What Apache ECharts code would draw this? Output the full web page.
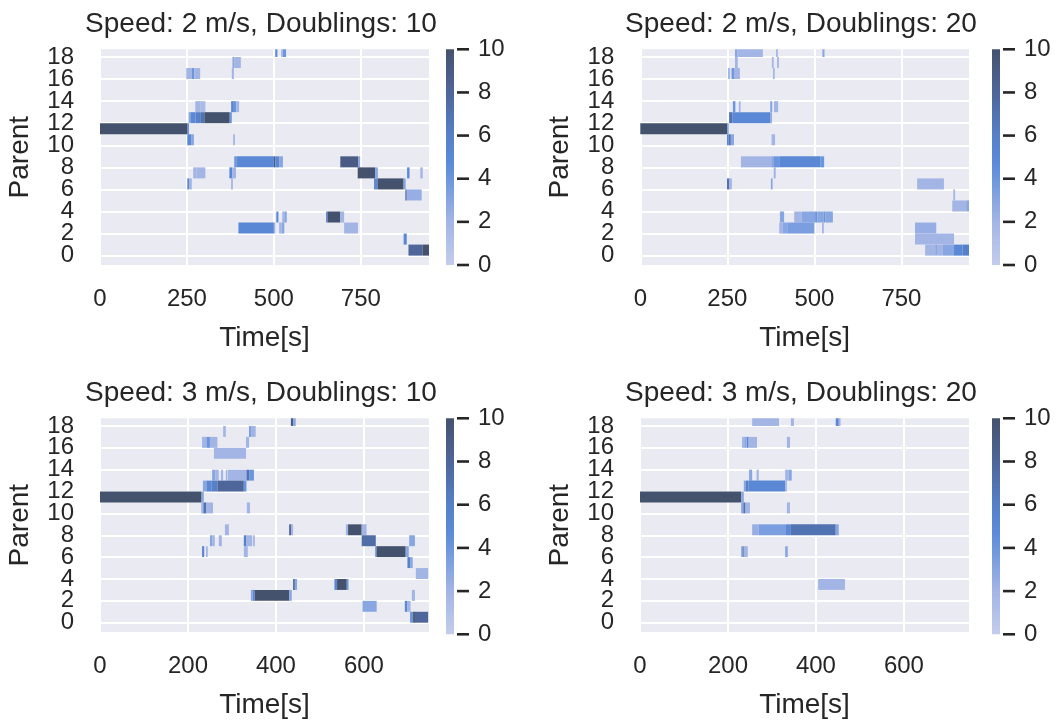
<!DOCTYPE html>
<html><head><meta charset="utf-8">
<script src="https://cdn.jsdelivr.net/npm/echarts@6/dist/echarts.min.js"></script>
<style>html,body{margin:0;padding:0;background:#fff}#c{width:1056px;height:720px}</style>
</head><body><div id="c"></div>
<script>
// ---- data ----
const parentTicks = [0, 2, 4, 6, 8, 10, 12, 14, 16, 18];
const timeTicksTop = [0, 250, 500, 750];
const timeTicksBottom = [0, 200, 400, 600];
const colorbarTicks = [0, 2, 4, 6, 8, 10];
const panelTitles = ['Speed: 2 m/s, Doublings: 10', 'Speed: 2 m/s, Doublings: 20',
                     'Speed: 3 m/s, Doublings: 10', 'Speed: 3 m/s, Doublings: 20'];
const timeMax = [946, 944, 748, 748];
const parentMin = -0.85, parentMax = 18.7;
const countMin = 0, countMax = 10;
const cmapStops = [[0, '#c3cdec'], [2, '#a3b5e5'], [4, '#6c96dc'], [4.7, '#5b8bd9'], [6, '#5680c8'], [8, '#4e6699'], [10, '#45526e']];

// segments: [start time (s), end time (s), parent bin, count]
const segSpeed2Doub10 = [
  [504,510,18,5],[521,526,18,2],[526,535,18,4],
  [381,386,17,3],[386,405,17,2],
  [248,264,16,2],[264,271,16,4],[271,288,16,2],[379,385,16,2],
  [274,288,13,2],[288,303,13,1.5],[377,385,13,5],[385,392,13,4],[392,400,13,2],
  [255,260,12,3],[260,275,12,5],[275,290,12,6],[290,300,12,7],[300,373,12,10],[373,379,12,4],
  [0,252,11,10],[252,256,11,4],
  [251,262,10,5],[262,270,10,3],[383,388,10,2],
  [386,392,8,4],[392,500,8,5],[500,504,8,9],[504,515,8,5],[515,526,8,3],[691,743,8,9],[743,748,8,3],
  [268,278,7,2],[278,303,7,2],[372,380,7,5],[380,391,7,2],[741,791,7,10],[791,799,7,3],[883,890,7,5],[921,928,7,2],
  [251,256,6,5],[256,264,6,2],[377,382,6,2],[788,798,6,5],[798,873,6,10],[873,879,6,3],
  [878,882,5,8],[882,925,5,2.5],
  [507,513,3,5],[524,530,3,2],[530,537,3,3],[650,654,3,5],[654,691,3,10],[691,702,3,2],
  [398,500,2,5],[500,504,2,2],[515,522,2,2],[522,530,2,3],[702,742,2,2],
  [873,882,1,5],
  [887,927,0,8],[927,946,0,10]
];
const segSpeed2Doub20 = [
  [272,279,18,3],[279,352,18,2],[390,395,18,2],[523,529,18,3],
  [272,280,17,2],[378,383,17,2],[393,398,17,2],
  [252,258,16,2],[262,269,16,4],[269,286,16,2],[381,386,16,2],
  [266,273,13,4],[283,288,13,2],[373,379,13,3],[384,396,13,2],
  [255,264,12,7],[264,373,12,5],[373,378,12,3],
  [0,249,11,10],[249,254,11,3],
  [249,254,10,5],[254,260,10,7],[260,269,10,3],[377,387,10,2],
  [289,376,8,2],[376,382,8,3],[382,401,8,4],[401,518,8,5],[518,528,8,4],
  [383,389,7,2],
  [249,256,6,7],[256,263,6,2],[375,380,6,3],[795,872,6,2],
  [899,904,5,2],
  [896,936,4,2],[936,944,4,3],
  [401,413,3,3],[442,463,3,2],[463,502,3,3],[502,509,3,4],[509,526,3,3],[526,532,3,4],[532,553,3,3],
  [399,409,2,2],[409,422,2,3],[422,500,2,3.5],[522,527,2,2],[789,850,2,2.5],
  [789,901,1,2],
  [818,847,0,2],[847,852,0,3],[852,869,0,2],[869,901,0,3],[901,925,0,5],[925,944,0,6]
];
const segSpeed3Doub10 = [
  [434,439,18,9],[439,445,18,3],
  [280,286,17,2],[339,343,17,4],[343,354,17,2],
  [232,242,16,2],[242,250,16,4],[250,267,16,2],[332,339,16,2],
  [259,332,15,2],
  [255,262,13,3],[262,270,13,2],[275,280,13,2],[286,289,13,2],[290,333,13,2],[333,339,13,7],[339,350,13,4],
  [234,242,12,3],[242,254,12,5],[254,267,12,6],[267,327,12,8],[327,333,12,4],
  [0,231,11,10],[231,236,11,3],
  [230,235,10,2],[235,242,10,7],[242,257,10,2],[334,341,10,2],
  [284,293,8,2],[430,435,8,8],[435,439,8,2],[559,564,8,2],[564,595,8,10],[595,606,8,2],
  [250,256,7,3],[256,261,7,2],[270,277,7,2],[327,333,7,6],[333,346,7,2],[348,352,7,2],[595,627,7,7.5],[703,716,7,3],
  [232,237,6,5],[241,245,6,2],[327,336,6,2],[626,629,6,6],[629,695,6,10],[695,702,6,3],
  [699,706,5,6],[706,711,5,3],
  [718,746,4,2],
  [439,443,3,8],[443,448,3,3],[533,539,3,5],[539,561,3,10],[561,565,3,4],
  [343,347,2,3],[347,352,2,5],[352,430,2,10],[430,436,2,3],[709,716,2,2],
  [597,629,1,3],[693,699,1,5],[699,706,1,2],
  [705,712,0,4],[712,716,0,10],[716,746,0,8]
];
const segSpeed3Doub20 = [
  [255,316,18,2],[343,350,18,2],[445,452,18,5],[452,456,18,2],
  [232,237,16,2],[237,241,16,3],[242,247,16,5],[247,266,16,2],[334,341,16,2],
  [248,255,13,3],[265,270,13,2],[330,338,13,2],[338,345,13,3],
  [236,240,12,3],[240,247,12,6],[247,330,12,5],[330,334,12,2],
  [0,230,11,10],[230,236,11,3],
  [230,235,10,3],[235,240,10,7],[240,250,10,2],[334,341,10,2],
  [255,270,8,2.5],[270,332,8,3.5],[332,343,8,5],[343,445,8,7],[445,452,8,3],
  [230,233,6,3],[233,236,6,7],[236,245,6,2],[330,336,6,3],
  [405,466,3,2]
];
const panelSegments = [segSpeed2Doub10, segSpeed2Doub20, segSpeed3Doub10, segSpeed3Doub20];

// ---- layout ----
const layout = [
  {left: 100, top: 49.3, width: 329, height: 215.7, cbLeft: 446, titleX: 261, titleTop: 10},
  {left: 640.3, top: 49.3, width: 328.7, height: 215.7, cbLeft: 992, titleX: 801, titleTop: 10},
  {left: 100, top: 418.3, width: 329, height: 216, cbLeft: 446, titleX: 261, titleTop: 379},
  {left: 640, top: 418.3, width: 329, height: 216, cbLeft: 992, titleX: 801, titleTop: 379}
];
const FONT = "'Liberation Sans', Arial, sans-serif";
const TXT = '#262626';

const chart = echarts.init(document.getElementById('c'), null, {renderer: 'canvas'});

const grids = [], xAxes = [], yAxes = [], series = [], titles = [];
const labelsA = parentTicks.filter((v, k) => k % 2 === 0);
const labelsB = parentTicks.filter((v, k) => k % 2 === 1);
layout.forEach((L, i) => {
  grids.push({left: L.left, top: L.top, width: L.width, height: L.height, show: true,
              backgroundColor: '#eaeaf2', borderWidth: 0, containLabel: false});
  titles.push({text: panelTitles[i], left: L.titleX, top: L.titleTop, textAlign: 'center', padding: 0,
               textStyle: {fontFamily: FONT, fontSize: 28, fontWeight: 'normal', color: TXT}});
  const tt = i < 2 ? timeTicksTop : timeTicksBottom;
  xAxes.push({type: 'value', gridIndex: i, min: 0, max: timeMax[i],
    name: 'Time[s]', nameLocation: 'middle', nameGap: 59,
    nameTextStyle: {fontFamily: FONT, fontSize: 28, color: TXT},
    axisLine: {show: false}, axisTick: {show: false, customValues: tt},
    axisLabel: {customValues: tt, showMinLabel: true, showMaxLabel: true, fontFamily: FONT, fontSize: 24, color: TXT, margin: 22},
    splitLine: {show: true, lineStyle: {color: '#ffffff', width: 2}}});
  yAxes.push({type: 'value', gridIndex: i, min: parentMin, max: parentMax,
    name: 'Parent', nameLocation: 'middle', nameGap: 66,
    nameTextStyle: {fontFamily: FONT, fontSize: 28, color: TXT},
    axisLine: {show: false}, axisTick: {show: false, customValues: parentTicks},
    axisLabel: {customValues: labelsA, showMinLabel: true, showMaxLabel: true,
                fontFamily: FONT, fontSize: 24, color: TXT, margin: 26},
    splitLine: {show: true, lineStyle: {color: '#ffffff', width: 2}}});
  series.push({type: 'custom', xAxisIndex: i, yAxisIndex: i,
    encode: {x: [0, 1], y: 2},
    data: panelSegments[i],
    renderItem: function (params, api) {
      const a = api.coord([api.value(0), api.value(2) + 1]);
      const b = api.coord([api.value(1), api.value(2)]);
      const cs = params.coordSys;
      const r = echarts.graphic.clipRectByRect(
        {x: a[0], y: a[1], width: b[0] - a[0], height: b[1] - a[1]},
        {x: cs.x, y: cs.y, width: cs.width, height: cs.height});
      if (!r) return;
      return {type: 'rect', shape: r, style: {fill: api.visual('color')}};
    }});
});

// colorbars
const gradStops = cmapStops.slice().reverse().map(s => ({offset: (countMax - s[0]) / (countMax - countMin), color: s[1]}));
layout.forEach((L, i) => {
  const gi = 4 + i;
  grids.push({left: L.cbLeft, top: L.top, width: 8, height: L.height, show: false});
  xAxes.push({type: 'value', gridIndex: gi, min: 0, max: 1, show: false});
  yAxes.push({type: 'value', gridIndex: gi, min: countMin, max: countMax, position: 'right', offset: 3,
    axisLine: {show: false},
    axisTick: {show: false, customValues: colorbarTicks},
    axisLabel: {customValues: colorbarTicks, showMinLabel: true, showMaxLabel: true,
                fontFamily: FONT, fontSize: 24, color: TXT, margin: 21},
    splitLine: {show: false}});
  series.push({type: 'custom', xAxisIndex: gi, yAxisIndex: gi, data: [[0, 0]], silent: true,
    renderItem: function (params, api) {
      const a = api.coord([0, countMax]);
      const b = api.coord([1, countMin]);
      const children = [{type: 'rect', shape: {x: a[0], y: a[1], width: b[0] - a[0], height: b[1] - a[1]},
              style: {fill: new echarts.graphic.LinearGradient(0, 0, 0, 1, gradStops)}}];
      colorbarTicks.forEach(v => {
        const p = api.coord([1, v]);
        children.push({type: 'line', shape: {x1: p[0] + 3, y1: p[1], x2: p[0] + 15, y2: p[1]},
                       style: {stroke: TXT, lineWidth: 2.6}});
      });
      return {type: 'group', children: children};
    }});
});

// second set of parent-axis labels (odd positions) on the same grids, so labels don't get culled
layout.forEach((L, i) => {
  yAxes.push({type: 'value', gridIndex: i, min: parentMin, max: parentMax, position: 'left', offset: 0,
    axisLine: {show: false}, axisTick: {show: false, customValues: labelsB},
    axisLabel: {customValues: labelsB, showMinLabel: true, showMaxLabel: true,
                fontFamily: FONT, fontSize: 24, color: TXT, margin: 26},
    splitLine: {show: false}});
});

function sampleCmap(n) {
  const out = [];
  const hex = h => [parseInt(h.slice(1,3),16), parseInt(h.slice(3,5),16), parseInt(h.slice(5,7),16)];
  for (let k = 0; k <= n; k++) {
    const v = countMin + (countMax - countMin) * k / n;
    let j = 0; while (j < cmapStops.length - 2 && v > cmapStops[j + 1][0]) j++;
    const [v0, c0] = cmapStops[j], [v1, c1] = cmapStops[j + 1];
    const t = Math.min(1, Math.max(0, (v - v0) / (v1 - v0)));
    const A = hex(c0), B = hex(c1);
    out.push('rgb(' + A.map((x, m) => Math.round(x + (B[m] - x) * t)).join(',') + ')');
  }
  return out;
}

chart.setOption({
  backgroundColor: '#ffffff',
  animation: false,
  title: titles,
  grid: grids,
  xAxis: xAxes,
  yAxis: yAxes,
  visualMap: {type: 'continuous', show: false, dimension: 3, seriesIndex: [0, 1, 2, 3],
    min: countMin, max: countMax, inRange: {color: sampleCmap(50)}},
  series: series
});
</script></body></html>
